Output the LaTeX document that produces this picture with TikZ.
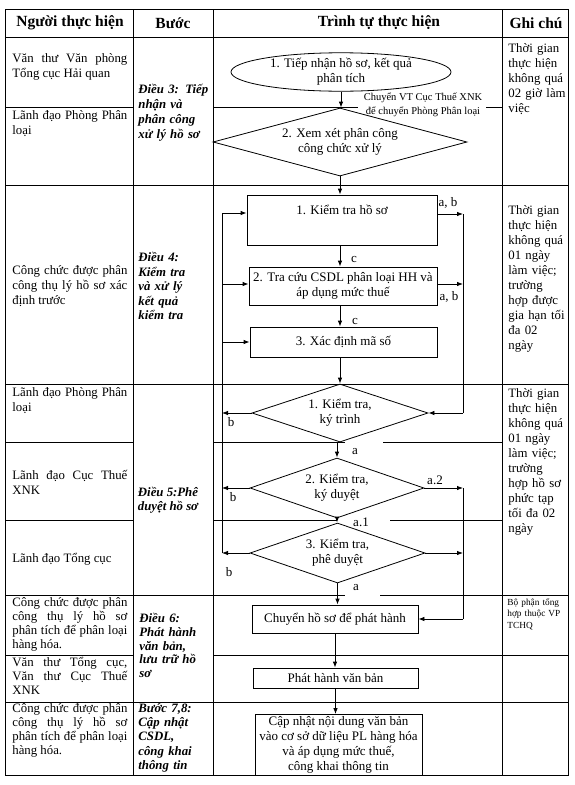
\documentclass[tikz,border=0pt]{standalone}
\usepackage{fontspec}
\setmainfont{Liberation Serif}
\usetikzlibrary{shapes.geometric,arrows.meta}
\newcommand\fnorm{\fontsize{12.8}{15}\selectfont}
\newcommand\fflow{\fontsize{13}{15}\selectfont}
\begin{document}
\begin{tikzpicture}[x=1pt,y=-1pt,line width=0.8pt,
  every node/.style={inner sep=0pt},
  hdr/.style={font=\fontsize{15.5}{18}\selectfont\bfseries},
  cell/.style={anchor=north west,text width=115pt,align=justify,font=\fnorm,execute at begin node={\noindent\strut}},
  celltight/.style={cell,font=\fontsize{12.8}{14}\selectfont},
  stepcol/.style={anchor=north west,text width=72pt,align=left,font=\fnorm\bfseries\itshape,execute at begin node={\noindent\strut}},
  note/.style={anchor=north west,text width=62pt,align=left,font=\fnorm,execute at begin node={\noindent\strut}},
  box/.style={draw,rectangle,align=center,font=\fflow},
  dia/.style={draw,diamond,align=center,font=\fflow},
  ell/.style={draw,ellipse,align=center,font=\fflow},
  lab/.style={font=\fontsize{13}{15}\selectfont},
  arr/.style={-{Latex[length=6pt,width=4.5pt]}}]
\useasboundingbox (0,0) rectangle (575,785);
\fill[white] (0,0) rectangle (575,785);
% ---------- table frame ----------
\draw (5,9) rectangle (568,775);
\draw (133,9) -- (133,775);
\draw (213,9) -- (213,775);
\draw (502,9) -- (502,775);
\draw (5,37) -- (568,37);
\draw (5,107) -- (133,107);
\draw (213,107) -- (358,107);
\draw (486,107) -- (502,107);
\draw (5,185) -- (568,185);
\draw (5,384) -- (568,384);
\draw (5,442) -- (133,442);
\draw (213,442) -- (345,442);
\draw (383,442) -- (502,442);
\draw (5,520) -- (133,520);
\draw (213,520) -- (337,520);
\draw (390,520) -- (502,520);
\draw (5,595) -- (345,595);
\draw (380,595) -- (568,595);
\draw (5,655) -- (133,655);
\draw (213,655) -- (568,655);
\draw (5,702) -- (568,702);
% ---------- headers ----------
\node[hdr] (h1) at (70,23) {Người thực hiện};
\node[hdr] (h2) at (173,23) {Bước};
\node[hdr] (h3) at (379,23) {Trình tự thực hiện};
\node[hdr] (h4) at (536,23) {Ghi chú};
% ---------- column 1 ----------
\node[cell] (c1) at (12,51.5) {Văn thư Văn phòng\linebreak Tổng cục Hải quan};
\node[cell] (c2) at (12,108.5) {Lãnh đạo Phòng Phân\linebreak loại};
\node[cell] (c3) at (12,263.5) {Công chức được phân\linebreak công thụ lý hồ sơ xác\linebreak định trước};
\node[cell] (c4) at (12,385.5) {Lãnh đạo Phòng Phân\linebreak loại};
\node[cell] (c5) at (12,468.5) {Lãnh đạo Cục Thuế\linebreak XNK};
\node[cell] (c6) at (12,551.5) {Lãnh đạo Tổng cục};
\node[celltight] (c7) at (12,596.5) {Công chức được phân\linebreak công thụ lý hồ sơ\linebreak phân tích để phân loại\linebreak hàng hóa.};
\node[celltight] (c8) at (12,656.5) {Văn thư Tổng cục,\linebreak Văn thư Cục Thuế\linebreak XNK};
\node[celltight] (c9) at (12,702.5) {Công chức được phân\linebreak công thụ lý hồ sơ\linebreak phân tích để phân loại\linebreak hàng hóa.};
% ---------- column 2 ----------
\node[stepcol] (s1) at (138,82.5) {Điều 3: Tiếp\\nhận và\\phân công\\xử lý hồ sơ};
\node[stepcol,font=\fontsize{12.8}{14.5}\selectfont\bfseries\itshape] (s2) at (138,251) {Điều 4:\\Kiểm tra\\và xử lý\\kết quả\\kiểm tra};
\node[font=\fontsize{12.8}{14}\selectfont\bfseries\itshape,align=center] (s3) at (168,500) {Điều 5:Phê\\duyệt hồ sơ};
\node[stepcol,font=\fontsize{12.8}{13.75}\selectfont\bfseries\itshape] (s4) at (139,612.5) {Điều 6:\\Phát hành\\văn bản,\\lưu trữ hồ\\sơ};
\node[stepcol,font=\fontsize{12.8}{14.25}\selectfont\bfseries\itshape] (s5) at (138,702) {Bước 7,8:\\Cập nhật\\CSDL,\\công khai\\thông tin};
% ---------- column 4 ----------
\node[note] (g1) at (508,41.5) {Thời gian\\thực hiện\\không quá\\02 giờ làm\\việc};
\node[note] (g2) at (508,203.5) {Thời gian\\thực hiện\\không quá\\01 ngày\\làm việc;\\trường\\hợp được\\gia hạn tối\\đa 02\\ngày};
\node[note] (g3) at (508,386.5) {Thời gian\\thực hiện\\không quá\\01 ngày\\làm việc;\\trường\\hợp hồ sơ\\phức tạp\\tối đa 02\\ngày};
\node[note,font=\fontsize{9.3}{11.5}\selectfont] (g4) at (507,597) {Bộ phận tổng\\hợp thuộc VP\\TCHQ};
% ---------- flowchart nodes ----------
\node[ell,minimum width=220pt,minimum height=37pt] (E) at (341,72) {1. Tiếp nhận hồ sơ, kết quả\\phân tích};
\node[dia,minimum width=254pt,minimum height=68pt,aspect=3.7] (D1) at (340,142) {2. Xem xét phân công\\công chức xử lý};
\node[font=\fontsize{10.5}{13.5}\selectfont,align=center] (tl) at (423,105) {Chuyển VT Cục Thuế XNK\\để chuyển Phòng Phân loại};
\node[box,minimum width=190pt,minimum height=50pt] (B1) at (342,220) {1. Kiểm tra hồ sơ\\\strut};
\node[box,minimum width=188pt,minimum height=38pt] (B2) at (343,286) {2. Tra cứu CSDL phân loại HH và\\áp dụng mức thuế};
\node[box,minimum width=187pt,minimum height=30pt] (B3) at (343.5,342) {3. Xác định mã số};
\node[dia,minimum width=176pt,minimum height=58pt,aspect=3] (K1) at (340,413) {1. Kiểm tra,\\ký trình};
\node[dia,minimum width=174pt,minimum height=60pt,aspect=2.9] (K2) at (337,488) {2. Kiểm tra,\\ký duyệt};
\node[dia,minimum width=175pt,minimum height=60pt,aspect=2.9] (K3) at (337.5,553) {3. Kiểm tra,\\phê duyệt};
\node[box,minimum width=166pt,minimum height=28pt] (C1) at (335,619) {Chuyển hồ sơ để phát hành};
\node[box,minimum width=165pt,minimum height=20pt] (C2) at (335.5,678) {Phát hành văn bản};
\node[box,minimum width=167pt,minimum height=61pt] (C3) at (338.5,745) {Cập nhật nội dung văn bản\\vào cơ sở dữ liệu PL hàng hóa\\và áp dụng mức thuế,\\công khai thông tin};
% ---------- main spine ----------
\draw[arr] (E.south) -- (E.south |- D1.north);
\draw[arr] (D1.south) -- (D1.south |- B1.north);
\draw[arr] (B1.south -| D1.south) -- (D1.south |- B2.north);
\draw[arr] (B2.south -| D1.south) -- (D1.south |- B3.north);
\draw[arr] (B3.south -| D1.south) -- (D1.south |- K1.north);
\draw[arr] (K1.south -| K2.north) -- (K2.north);
\draw[arr] (K2.south) -- (K3.north -| K2.south);
\draw[arr] (K3.south) -- (K3.south |- C1.north);
\draw[arr] (C1.south) -- (C1.south |- C2.north);
\draw[arr] (C2.south) -- (C2.south |- C3.north);
% ---------- left return line ----------
\coordinate (l1) at (222,213);
\coordinate (l2) at (222,284);
\coordinate (l3) at (222,342);
\coordinate (l4) at (222,413);
\coordinate (l5) at (222,488);
\coordinate (l6) at (222,553);
\draw (l1) -- (l6);
\draw[arr] (l1) -- (l1 -| B1.west);
\draw[arr] (l2) -- (l2 -| B2.west);
\draw[arr] (l3) -- (l3 -| B3.west);
\draw[arr] (K1.west) -- (l4);
\draw[arr] (K2.west) -- (l5);
\draw[arr] (K3.west) -- (l6);
% ---------- right lines ----------
\coordinate (r1) at (463,214);
\coordinate (r2) at (463,284);
\coordinate (r3) at (463,413);
\coordinate (r4) at (463,488);
\coordinate (r5) at (463,553);
\coordinate (r6) at (463,619);
\draw[arr] (r1 -| B1.east) -- (r1);
\draw[arr] (r2 -| B2.east) -- (r2);
\draw (r1) -- (r3);
\draw[arr] (r3) -- (K1.east);
\draw[arr] (K2.east) -- (r4);
\draw[arr] (K3.east) -- (r5);
\draw (r4) -- (r6);
\draw[arr] (r6) -- (C1.east);
% ---------- labels ----------
\node[lab] (la1) at (448,203) {a, b};
\node[lab] (la2) at (449,297) {a, b};
\node[lab] (lc1) at (354,259) {c};
\node[lab] (lc2) at (355,321) {c};
\node[lab] (la3) at (355,452) {a};
\node[lab] (la4) at (435,480) {a.2};
\node[lab] (la5) at (361,522) {a.1};
\node[lab] (la6) at (356,588) {a};
\node[lab] (lb1) at (231,422) {b};
\node[lab] (lb2) at (233,497) {b};
\node[lab] (lb3) at (229,572) {b};
\end{tikzpicture}
\end{document}
